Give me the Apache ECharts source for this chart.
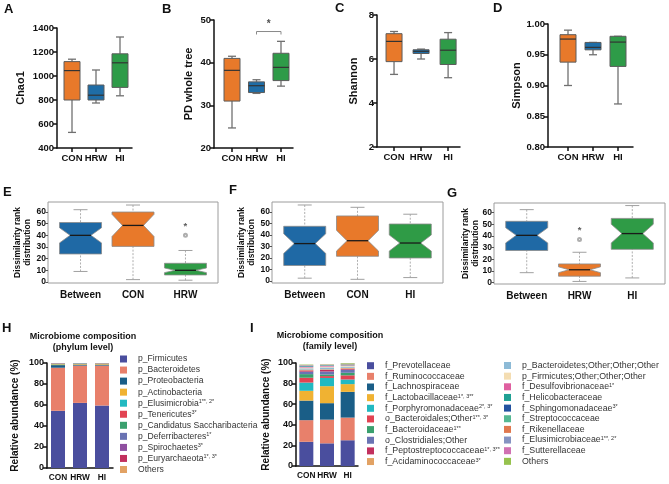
<!DOCTYPE html>
<html><head><meta charset="utf-8">
<script src="https://cdn.jsdelivr.net/npm/echarts@6/dist/echarts.min.js"></script>
<style>html,body{margin:0;padding:0;background:#fff}#c{width:669px;height:484px}</style>
</head><body><div id="c"></div>
<script>
// ---------- DATA ----------
const groups = ['CON', 'HRW', 'HI'];
// alpha diversity: [min, Q1, median, Q3, max]
const chao1   = [[530, 800, 1045, 1120, 1140], [775, 800, 840, 925, 1050], [835, 905, 1110, 1185, 1325]];
const pdTree  = [[24.7, 31, 38.2, 41, 41.5], [32.8, 33, 34.6, 35.5, 36], [34.5, 35.8, 38.9, 42.2, 45]];
const shannon = [[5.3, 5.88, 6.8, 7.15, 7.25], [6.0, 6.25, 6.35, 6.42, 6.45], [5.15, 5.75, 6.4, 6.9, 7.2]];
const simpson = [[0.900, 0.938, 0.9755, 0.9826, 0.990], [0.950, 0.958, 0.962, 0.970, 0.970], [0.870, 0.931, 0.9706, 0.980, 0.980]];
const sigBracketB = [2, 3];      // HRW vs HI
const sigLevelB = 47.3;
const sigLabelB = '*';

// beta diversity (ANOSIM rank): [min, Q1, median, Q3, max, notchLow, notchHigh]
const catsE = ['Between', 'CON', 'HRW'];
const betaE = [[9, 24, 40, 51, 62, 33.5, 46.5], [2, 30.5, 48.5, 60, 66, 39, 58], [1.5, 6, 10, 16, 27, 8, 12]];
const outE = [[], [], [40]];
const starE = [null, null, 47.5];
const catsF = ['Between', 'CON', 'HI'];
const betaF = [[2.5, 13.5, 32.5, 47.5, 66, 24, 41], [1.5, 21.5, 35, 56.5, 64, 26, 44], [3, 20, 33, 49.5, 58, 26, 40]];
const catsG = ['Between', 'HRW', 'HI'];
const betaG = [[8.5, 27.5, 40.5, 52.5, 62.5, 34, 47], [1, 5.5, 11, 16, 26, 8.5, 13.5], [4, 28.5, 42, 55, 66, 34, 50]];
const outG = [[], [37], []];
const starG = [null, 45, null];

// composition (relative abundance, %)
const phylumNames = ['p_Firmicutes', 'p_Bacteroidetes', 'p_Proteobacteria', 'p_Actinobacteria', 'p_Elusimicrobia', 'p_Tenericutes', 'p_Candidatus Saccharibacteria', 'p_Deferribacteres', 'p_Spirochaetes', 'p_Euryarchaeota', 'Others'];
const phylumSup = ['', '', '', '', '1**, 2*', '3*', '', '1*', '3*', '1*, 3*', ''];
const phylumCON = [54.5, 41.0, 2.5, 0.8, 0.3, 0.2, 0.2, 0.2, 0.1, 0.1, 0.1];
const phylumHRW = [62.0, 35.5, 1.0, 0.6, 0.4, 0.1, 0.1, 0.1, 0.1, 0.05, 0.1];
const phylumHI  = [59.5, 38.0, 1.0, 0.8, 0.2, 0.2, 0.1, 0.1, 0.05, 0.05, 0.1];

const familyNames = ['f_Prevotellaceae', 'f_Ruminococcaceae', 'f_Lachnospiraceae', 'f_Lactobacillaceae', 'f_Porphyromonadaceae', 'o_Bacteroidales;Other', 'f_Bacteroidaceae', 'o_Clostridiales;Other', 'f_Peptostreptococcaceae', 'f_Acidaminococcaceae',
  'p_Bacteroidetes;Other;Other;Other', 'p_Firmicutes;Other;Other;Other', 'f_Desulfovibrionaceae', 'f_Helicobacteraceae', 'f_Sphingomonadaceae', 'f_Streptococcaceae', 'f_Rikenellaceae', 'f_Elusimicrobiaceae', 'f_Sutterellaceae', 'Others'];
const familySup = ['', '', '', '1*, 3**', '2*, 3*', '1**, 3*', '1**', '', '1*, 3**', '3*', '', '', '1*', '', '3*', '', '', '1**, 2*', '', ''];
const familyCON = [23.5, 21.0, 19.0, 9.5, 8.0, 4.7, 3.5, 2.4, 1.2, 0.8, 1.2, 0.8, 0.6, 0.5, 0.3, 0.4, 0.3, 0.2, 0.2, 0.4];
const familyHRW = [22.0, 23.0, 16.0, 16.5, 8.0, 1.8, 1.5, 3.0, 1.5, 0.6, 1.8, 0.8, 0.8, 0.3, 0.2, 0.3, 0.2, 0.1, 0.1, 0.3];
const familyHI  = [25.0, 22.0, 25.0, 7.5, 4.5, 4.0, 2.5, 3.0, 1.0, 0.8, 1.2, 0.8, 0.5, 0.4, 0.2, 0.3, 0.3, 0.2, 0.2, 0.6];

// ---------- STYLE ----------
const FONT = '"Liberation Sans", Arial, sans-serif';
const prismColors = ['#E8792A', '#1F6DA6', '#2E9B48'];
const rColors = ['#1F69A5', '#E8792A', '#2F9B46'];
const phylumColors = ['#4A4E9E', '#E8806B', '#1A5E87', '#F0B232', '#22B9C1', '#E24352', '#3AA06E', '#6A73B3', '#8F4FA0', '#C2305E', '#E2A264'];
const familyColors = ['#4A4E9E', '#E8806B', '#1A5E87', '#F0B232', '#22B9C1', '#E24352', '#3AA06E', '#6A73B3', '#C2305E', '#E2A264',
  '#8DBAD6', '#F4DDB2', '#DF5FA0', '#1FA093', '#2352A0', '#55B892', '#E0784E', '#8593C2', '#D071B2', '#96C24E'];

const chart = echarts.init(document.getElementById('c'), null, { renderer: 'canvas' });

function toBoxData(arr) { return arr.map((r, i) => [i + 1].concat(r)); }

function prismRender(colors) {
  return function (params, api) {
    const x = api.value(0);
    const p = [1, 2, 3, 4, 5].map(i => api.coord([x, api.value(i)]));
    const cx = p[0][0], hw = 8, cw = 4;
    const wl = { stroke: '#707070', lineWidth: 1.3 };
    return {
      type: 'group', children: [
        { type: 'line', shape: { x1: cx, y1: p[4][1], x2: cx, y2: p[3][1] }, style: wl },
        { type: 'line', shape: { x1: cx, y1: p[0][1], x2: cx, y2: p[1][1] }, style: wl },
        { type: 'line', shape: { x1: cx - cw, y1: p[4][1], x2: cx + cw, y2: p[4][1] }, style: wl },
        { type: 'line', shape: { x1: cx - cw, y1: p[0][1], x2: cx + cw, y2: p[0][1] }, style: wl },
        { type: 'rect', shape: { x: cx - hw, y: p[3][1], width: 2 * hw, height: p[1][1] - p[3][1] }, style: { fill: colors[params.dataIndex], stroke: '#5c5c5c', lineWidth: 1 } },
        { type: 'line', shape: { x1: cx - hw, y1: p[2][1], x2: cx + hw, y2: p[2][1] }, style: { stroke: '#333', lineWidth: 1.2 } }
      ]
    };
  };
}

function notchRender(colors) {
  return function (params, api) {
    const x = api.value(0);
    const pt = i => api.coord([x, api.value(i)]);
    const c = pt(1)[0];
    const mn = pt(1)[1], q1 = pt(2)[1], md = pt(3)[1], q3 = pt(4)[1], mx = pt(5)[1], nl = pt(6)[1], nh = pt(7)[1];
    const hw = 21, cw = 7;
    const poly = [[c - hw, q1], [c + hw, q1], [c + hw, nl], [c + hw / 2, md], [c + hw, nh], [c + hw, q3], [c - hw, q3], [c - hw, nh], [c - hw / 2, md], [c - hw, nl]];
    const dash = { stroke: '#9a9a9a', lineWidth: 0.8, lineDash: [2, 1.5] };
    const cap = { stroke: '#a0a0a0', lineWidth: 1 };
    return {
      type: 'group', children: [
        { type: 'line', shape: { x1: c, y1: mx, x2: c, y2: q3 }, style: dash },
        { type: 'line', shape: { x1: c, y1: mn, x2: c, y2: q1 }, style: dash },
        { type: 'line', shape: { x1: c - cw, y1: mx, x2: c + cw, y2: mx }, style: cap },
        { type: 'line', shape: { x1: c - cw, y1: mn, x2: c + cw, y2: mn }, style: cap },
        { type: 'polygon', shape: { points: poly }, style: { fill: colors[params.dataIndex], stroke: '#8a8a8a', lineWidth: 0.8 } },
        { type: 'line', shape: { x1: c - hw / 2, y1: md, x2: c + hw / 2, y2: md }, style: { stroke: '#1a1a1a', lineWidth: 1.3 } }
      ]
    };
  };
}

// ---------- GRIDS ----------
const grids = [
  { left: 57, top: 28, width: 75, height: 120 },   // A 0
  { left: 214, top: 20, width: 79, height: 128 },  // B 1
  { left: 377, top: 15, width: 83, height: 132 },  // C 2
  { left: 548, top: 24, width: 85, height: 123 },  // D 3
  { left: 48, top: 202, width: 170, height: 81, show: true, borderColor: '#9c9c9c', borderWidth: 1 },  // E 4
  { left: 272, top: 202, width: 171, height: 81, show: true, borderColor: '#9c9c9c', borderWidth: 1 }, // F 5
  { left: 494, top: 203, width: 171, height: 81, show: true, borderColor: '#9c9c9c', borderWidth: 1 }, // G 6
  { left: 47, top: 363, width: 66, height: 105 },  // H 7
  { left: 296, top: 363, width: 62, height: 103 }  // I 8
];

const boldLbl = (size) => ({ fontFamily: FONT, fontWeight: 'bold', fontSize: size, color: '#111' });

function prismX(gi, min, max) {
  return {
    type: 'value', gridIndex: gi, min: min, max: max,
    axisLine: { onZero: false, lineStyle: { color: '#111', width: 1.5 } },
    axisTick: { customValues: [1, 2, 3], length: 4, lineStyle: { color: '#111', width: 1.5 } },
    axisLabel: Object.assign({ customValues: [1, 2, 3], margin: 5, formatter: v => groups[Math.round(v) - 1] }, boldLbl(9.5)),
    splitLine: { show: false }
  };
}
function prismY(gi, min, max, interval, name, gap, fmt) {
  return {
    type: 'value', gridIndex: gi, min: min, max: max, interval: interval,
    name: name, nameLocation: 'middle', nameRotate: 90, nameGap: gap,
    nameTextStyle: { fontFamily: FONT, fontWeight: 'bold', fontSize: 11, color: '#111' },
    axisLine: { show: true, onZero: false, lineStyle: { color: '#111', width: 1.5 } },
    axisTick: { show: true, length: 4, lineStyle: { color: '#111', width: 1.5 } },
    axisLabel: Object.assign({ margin: 3, formatter: fmt || (v => String(v)) }, boldLbl(9.5)),
    splitLine: { show: false }
  };
}
const rTicks = [0, 10, 20, 30, 40, 50, 60];
function rX(gi, cats) {
  return {
    type: 'value', gridIndex: gi, min: 0.38, max: 3.62,
    axisLine: { show: false },
    axisTick: { show: false },
    axisLabel: Object.assign({ customValues: [1, 2, 3], margin: 7, formatter: v => cats[Math.round(v) - 1] }, boldLbl(10)),
    splitLine: { show: false }
  };
}
function rY(gi, min, max, gap) {
  return {
    type: 'value', gridIndex: gi, min: min, max: max,
    name: 'Dissimilarity rank\ndistribution', nameLocation: 'middle', nameRotate: 90, nameGap: gap, nameMoveOverlap: false,
    nameTextStyle: { fontFamily: FONT, fontWeight: 'bold', fontSize: 8.5, color: '#111', lineHeight: 10 },
    axisLine: { show: false },
    axisTick: { show: true, customValues: rTicks, length: 2.5, lineStyle: { color: '#555', width: 1 } },
    axisLabel: Object.assign({ customValues: rTicks, margin: 2 }, boldLbl(8.5)),
    splitLine: { show: false }
  };
}
function barX(gi) {
  return {
    type: 'category', gridIndex: gi, data: groups,
    axisLine: { lineStyle: { color: '#111', width: 1.5 } },
    axisTick: { alignWithLabel: true, length: 4, lineStyle: { color: '#111', width: 1.5 } },
    axisLabel: Object.assign({ margin: 6, interval: 0 }, boldLbl(8.3)),
  };
}
function barY(gi, gap) {
  return {
    type: 'value', gridIndex: gi, min: 0, max: 100, interval: 20,
    name: 'Relative abundance (%)', nameLocation: 'middle', nameRotate: 90, nameGap: gap,
    nameTextStyle: { fontFamily: FONT, fontWeight: 'bold', fontSize: 10, color: '#111' },
    axisLine: { show: true, lineStyle: { color: '#111', width: 1.5 } },
    axisTick: { show: true, length: 4, lineStyle: { color: '#111', width: 1.5 } },
    axisLabel: Object.assign({ margin: 3 }, boldLbl(9)),
    splitLine: { show: false }
  };
}

const xAxes = [
  prismX(0, 0.375, 3.5), prismX(1, 0.265, 3.49), prismX(2, 0.37, 3.44), prismX(3, 0.2, 3.6),
  rX(4, catsE), rX(5, catsF), rX(6, catsG),
  barX(7), barX(8)
];
const yAxes = [
  prismY(0, 400, 1400, 200, 'Chao1', 31),
  prismY(1, 20, 50, 10, 'PD whole tree', 20),
  prismY(2, 2, 8, 2, 'Shannon', 18),
  prismY(3, 0.8, 1.0, 0.05, 'Simpson', 24, v => v.toFixed(2)),
  rY(4, -0.9, 68.6, 15.5), rY(5, -1.7, 68.6, 15.5), rY(6, -1.2, 68.2, 13.5),
  barY(7, 27), barY(8, 25)
];

const series = [];
[[chao1, 0], [pdTree, 1], [shannon, 2], [simpson, 3]].forEach(([d, gi]) => {
  series.push({ type: 'custom', xAxisIndex: gi, yAxisIndex: gi, renderItem: prismRender(prismColors), data: toBoxData(d), encode: { x: 0, y: [1, 2, 3, 4, 5] }, silent: true });
});
// significance bracket in B
series.push({
  type: 'line', xAxisIndex: 1, yAxisIndex: 1, symbol: 'none', silent: true,
  lineStyle: { color: '#8a8a8a', width: 1 },
  data: [[sigBracketB[0], sigLevelB - 0.7], [sigBracketB[0], sigLevelB], [sigBracketB[1], sigLevelB], [sigBracketB[1], sigLevelB - 0.7]]
});
series.push({
  type: 'scatter', xAxisIndex: 1, yAxisIndex: 1, symbolSize: 0, silent: true,
  label: { show: true, position: 'inside', formatter: sigLabelB, fontFamily: FONT, fontWeight: 'bold', fontSize: 10, color: '#222' },
  data: [[(sigBracketB[0] + sigBracketB[1]) / 2, sigLevelB + 1.6]]
});

[[betaE, outE, starE, 4], [betaF, null, null, 5], [betaG, outG, starG, 6]].forEach(([d, outs, stars, gi]) => {
  series.push({ type: 'custom', xAxisIndex: gi, yAxisIndex: gi, renderItem: notchRender(rColors), data: toBoxData(d), encode: { x: 0, y: [1, 2, 3, 4, 5, 6, 7] }, silent: true });
  if (outs) {
    const od = []; outs.forEach((arr, i) => arr.forEach(v => od.push([i + 1, v])));
    series.push({ type: 'scatter', xAxisIndex: gi, yAxisIndex: gi, symbol: 'emptyCircle', symbolSize: 3, itemStyle: { color: '#9a9a9a', borderWidth: 0.8 }, data: od, silent: true });
  }
  if (stars) {
    const sd = []; stars.forEach((v, i) => { if (v != null) sd.push([i + 1, v]); });
    series.push({ type: 'scatter', xAxisIndex: gi, yAxisIndex: gi, symbolSize: 0, silent: true,
      label: { show: true, position: 'inside', formatter: '*', fontFamily: FONT, fontWeight: 'bold', fontSize: 9.5, color: '#333' }, data: sd });
  }
});

phylumNames.forEach((n, i) => {
  series.push({ type: 'bar', name: 'H|' + n, stack: 'phylum', xAxisIndex: 7, yAxisIndex: 7, barWidth: 14,
    itemStyle: { color: phylumColors[i] }, data: [phylumCON[i], phylumHRW[i], phylumHI[i]], silent: true });
});
familyNames.forEach((n, i) => {
  series.push({ type: 'bar', name: 'I|' + n, stack: 'family', xAxisIndex: 8, yAxisIndex: 8, barWidth: 14,
    itemStyle: { color: familyColors[i] }, data: [familyCON[i], familyHRW[i], familyHI[i]], silent: true });
});

function legendFmt(names, sups) {
  return function (name) {
    const raw = name.split('|')[1];
    const i = names.indexOf(raw);
    return '{t|' + raw + '}' + (sups[i] ? '{s|' + sups[i] + '}' : '');
  };
}
function legendRich(size) {
  return {
    t: { fontFamily: FONT, fontSize: size, color: '#333', padding: [0, 0, 0, 6] },
    s: { fontFamily: FONT, fontSize: 5.5, color: '#333', verticalAlign: 'top' }
  };
}
const legends = [
  { left: 120, top: 354.5, orient: 'vertical', padding: 0, itemGap: 2.05, itemWidth: 7, itemHeight: 7, icon: 'rect', selectedMode: false,
    data: phylumNames.map(n => 'H|' + n), formatter: legendFmt(phylumNames, phylumSup), textStyle: { rich: legendRich(8.6) } },
  { left: 367, top: 361.2, orient: 'vertical', padding: 0, itemGap: 1.65, itemWidth: 7, itemHeight: 7, icon: 'rect', selectedMode: false,
    data: familyNames.slice(0, 10).map(n => 'I|' + n), formatter: legendFmt(familyNames, familySup), textStyle: { rich: legendRich(8.8) } },
  { left: 504, top: 361, orient: 'vertical', padding: 0, itemGap: 1.65, itemWidth: 7, itemHeight: 7, icon: 'rect', selectedMode: false,
    data: familyNames.slice(10).map(n => 'I|' + n), formatter: legendFmt(familyNames, familySup), textStyle: { rich: legendRich(8.8) } }
];

const letter = (t, x, y) => ({ type: 'text', left: x, top: y, style: { text: t, fontFamily: FONT, fontWeight: 'bold', fontSize: 13, fill: '#111' } });
const titleText = (t, cx, y) => ({ type: 'text', x: cx, y: y, style: { text: t, fontFamily: FONT, fontWeight: 'bold', fontSize: 9, fill: '#111', align: 'center', verticalAlign: 'middle' } });

chart.setOption({
  animation: false,
  backgroundColor: '#fff',
  grid: grids,
  xAxis: xAxes,
  yAxis: yAxes,
  legend: legends,
  series: series,
  graphic: [
    letter('A', 4, 3), letter('B', 162, 3), letter('C', 335, 2), letter('D', 493, 2),
    letter('E', 3, 186), letter('F', 229, 184), letter('G', 447, 187),
    letter('H', 2, 322), letter('I', 250, 322),
    titleText('Microbiome composition', 83, 337), titleText('(phylum level)', 83, 348),
    titleText('Microbiome composition', 330, 336), titleText('(family level)', 330, 347)
  ]
});
</script></body></html>
